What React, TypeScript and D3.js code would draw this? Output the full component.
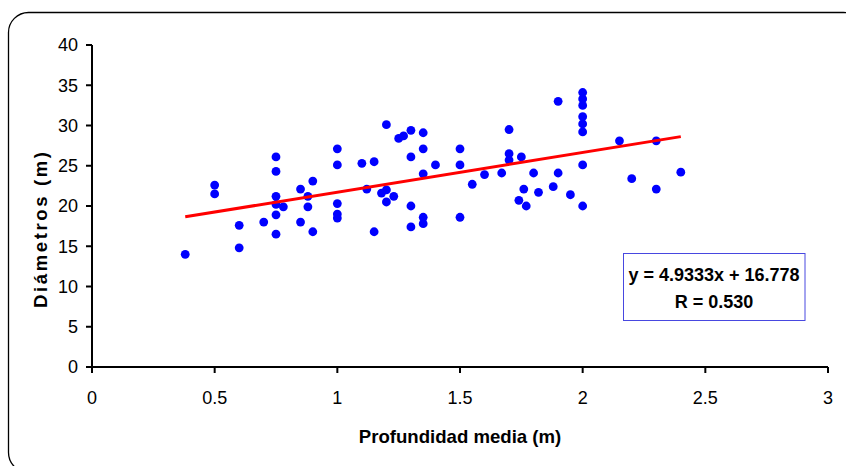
import React from "react";
import * as d3 from "d3";

const depth = [
  0.38, 0.5, 0.5, 0.6, 0.6, 0.7, 0.75, 0.75, 0.75, 0.75, 0.75, 0.75, 0.78, 0.85, 0.85, 0.88, 0.88, 0.9, 0.9,
  1.0, 1.0, 1.0, 1.0, 1.0, 1.1, 1.12, 1.15, 1.15, 1.18, 1.2, 1.2, 1.2, 1.23, 1.25, 1.27, 1.3, 1.3, 1.3, 1.3,
  1.35, 1.35, 1.35, 1.35, 1.35, 1.4, 1.5, 1.5, 1.5, 1.55, 1.6, 1.67, 1.7, 1.7, 1.7, 1.75, 1.74, 1.76, 1.77,
  1.8, 1.82, 1.88, 1.9, 1.9, 1.95, 2.0, 2.0, 2.0, 2.0, 2.0, 2.0, 2.0, 2.0, 2.15, 2.2, 2.3, 2.3, 2.4,
];
const diameter = [
  14.0, 22.6, 21.5, 17.6, 14.8, 18.0, 26.1, 24.3, 21.2, 20.2, 18.9, 16.5, 19.9, 22.1, 18.0, 21.2, 19.9, 23.1, 16.8,
  27.1, 25.1, 20.3, 19.0, 18.5, 25.3, 22.1, 25.5, 16.8, 21.6, 30.1, 22.0, 20.5, 21.2, 28.4, 28.7, 29.4, 26.1, 20.0, 17.4,
  29.1, 27.1, 24.0, 18.6, 17.8, 25.1, 27.1, 25.1, 18.6, 22.7, 23.9, 24.1, 29.5, 26.5, 25.7, 26.1, 20.7, 22.1, 20.0,
  24.1, 21.7, 22.4, 33.0, 24.1, 21.4, 34.1, 33.3, 32.5, 31.1, 30.2, 29.2, 25.1, 20.0, 28.1, 23.4, 28.1, 22.1, 24.2,
];
const xTicks = [0, 0.5, 1, 1.5, 2, 2.5, 3];
const yTicks = [0, 5, 10, 15, 20, 25, 30, 35, 40];
const slope = 4.9333;
const intercept = 16.778;
const trendRange = [0.38, 2.4];
const eqLines = ["y = 4.9333x  + 16.778", "R = 0.530"];
const xTitle = "Profundidad media (m)";
const yTitle = "Diámetros (m)";

const W = 846;
const H = 466;
const FONT = "'Liberation Sans', Arial, sans-serif";

export default function App() {
  const x = d3.scaleLinear().domain([0, 3]).range([92, 828]);
  const y = d3.scaleLinear().domain([0, 40]).range([367, 45]);
  const line = d3
    .line<number>()
    .x((d) => x(d))
    .y((d) => y(slope * d + intercept));

  return (
    <svg
      width={W}
      height={H}
      style={{ position: "absolute", left: 0, top: 0, background: "#fff" }}
      fontFamily={FONT}
    >
      <rect x={8.5} y={12.5} width={855} height={460} rx={20} ry={20} fill="#fff" stroke="#000" strokeWidth={1.3} />

      {/* axes */}
      <line x1={x(0)} x2={x(0)} y1={y(40)} y2={y(0)} stroke="#000" strokeWidth={2} />
      <line x1={x(0)} x2={x(3)} y1={y(0)} y2={y(0)} stroke="#000" strokeWidth={2} />
      {yTicks.map((t) => (
        <g key={"y" + t}>
          <line x1={x(0) - 6} x2={x(0)} y1={y(t)} y2={y(t)} stroke="#000" strokeWidth={2} />
          <text x={78} y={y(t)} dy="0.36em" textAnchor="end" fontSize={18} fill="#000">
            {t}
          </text>
        </g>
      ))}
      {xTicks.map((t) => (
        <g key={"x" + t}>
          <line x1={x(t)} x2={x(t)} y1={y(0)} y2={y(0) + 6} stroke="#000" strokeWidth={2} />
          <text x={x(t)} y={403.5} textAnchor="middle" fontSize={18} fill="#000">
            {d3.format("")(t)}
          </text>
        </g>
      ))}

      {/* points */}
      {depth.map((d, i) => (
        <circle key={i} cx={x(d)} cy={y(diameter[i])} r={4.4} fill="#0000ff" />
      ))}

      {/* trend line */}
      <path d={line(trendRange) || ""} fill="none" stroke="#ff0000" strokeWidth={3} />

      {/* equation box */}
      <rect x={623.5} y={253.5} width={181.5} height={67} fill="#fff" stroke="#4848e0" strokeWidth={1} />
      <text x={714} y={281} textAnchor="middle" fontSize={18} fontWeight="bold" fill="#000">
        {eqLines[0]}
      </text>
      <text x={714} y={307.5} textAnchor="middle" fontSize={18} fontWeight="bold" fill="#000">
        {eqLines[1]}
      </text>

      {/* titles */}
      <text x={460} y={443} textAnchor="middle" fontSize={18.6} fontWeight="bold" fill="#000">
        {xTitle}
      </text>
      <text
        transform={`translate(47,230) rotate(-90)`}
        textAnchor="middle"
        fontSize={18.6}
        fontWeight="bold"
        fill="#000"
        textLength={156}
        lengthAdjust="spacing"
      >
        {yTitle}
      </text>
    </svg>
  );
}
